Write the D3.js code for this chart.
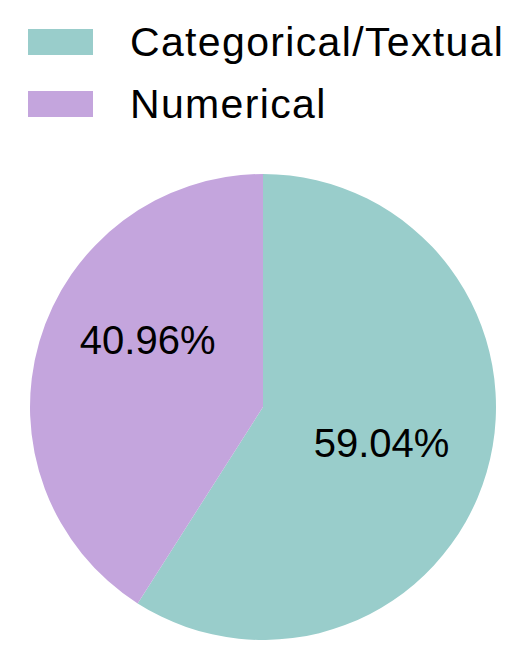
<!DOCTYPE html>
<html>
<head>
<meta charset="utf-8">
<script src="https://cdn.jsdelivr.net/npm/d3@7"></script>
<style>
  html, body { margin: 0; padding: 0; background: #ffffff; }
  svg { display: block; }
  text { font-family: "Liberation Sans", Arial, Helvetica, sans-serif; fill: #000; }
</style>
</head>
<body>
<svg id="chart" width="521" height="650"></svg>
<script>
// ---- data ----
const categories = ["Categorical/Textual", "Numerical"];
const values = [59.04, 40.96];
const labels = ["59.04%", "40.96%"];
const colors = ["#99cdcb", "#c4a5dd"];

// ---- layout ----
const W = 521, H = 650;
const cx = 263, cy = 407, R = 233;
const labelRadius = [0.53, 0.575];
const labelAngleShift = [0, 0.25]; // radians

const svg = d3.select("#chart");

const pie = d3.pie().sort(null).value(d => d)
  .startAngle(0).endAngle(2 * Math.PI);
const arcs = pie(values);
const arc = d3.arc().innerRadius(0).outerRadius(R);

const g = svg.append("g").attr("transform", `translate(${cx},${cy})`);
g.selectAll("path").data(arcs).join("path")
  .attr("d", arc)
  .attr("fill", (d, i) => colors[i]);

g.selectAll("text.lbl").data(arcs).join("text")
  .attr("class", "lbl")
  .attr("text-anchor", "middle")
  .attr("font-size", 40)
  .each(function (d, i) {
    const a = (d.startAngle + d.endAngle) / 2 + labelAngleShift[i];
    const r = R * labelRadius[i];
    const x = r * Math.sin(a), y = -r * Math.cos(a);
    d3.select(this).attr("x", x).attr("y", y + 15);
  })
  .text((d, i) => labels[i]);

// legend
const leg = svg.append("g");
const legY = d3.scalePoint().domain(categories).range([29, 91]);
leg.selectAll("rect").data(categories).join("rect")
  .attr("x", 28).attr("y", d => legY(d))
  .attr("width", 65).attr("height", 26)
  .attr("fill", (d, i) => colors[i]);
leg.selectAll("text").data(categories).join("text")
  .attr("x", 130).attr("y", d => legY(d) + 27)
  .attr("font-size", 41)
  .attr("letter-spacing", 1.35)
  .text(d => d);
</script>
</body>
</html>
